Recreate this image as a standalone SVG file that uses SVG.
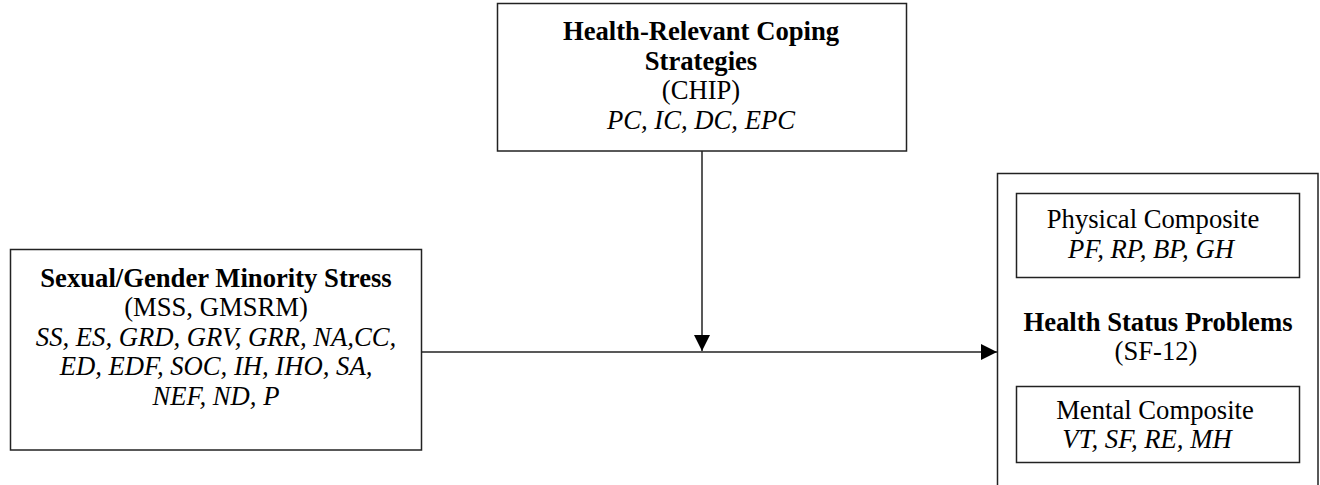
<svg xmlns="http://www.w3.org/2000/svg" width="1320" height="485" viewBox="0 0 1320 485">
<style>
.box{fill:#fff;stroke:#222;stroke-width:1.5}
text{font-family:"Liberation Serif","Times New Roman",serif;font-size:26.67px;fill:#000;text-anchor:middle}
.b{font-weight:bold}
.i{font-style:italic}
.conn{stroke:#222;stroke-width:1.5;fill:none}
</style>
<defs>
<marker id="ah" markerWidth="16" markerHeight="16" viewBox="0 0 16 16" refX="16" refY="8" orient="auto" markerUnits="userSpaceOnUse">
<path d="M0,0 L16,8 L0,16 Z" fill="#000"/>
</marker>
</defs>
<rect width="1320" height="485" fill="#fff"/>
<g id="connectors">
<line class="conn" x1="421" y1="352" x2="997" y2="352" marker-end="url(#ah)"/>
<line class="conn" x1="702" y1="151" x2="702" y2="351" marker-end="url(#ah)"/>
</g>
<g id="coping">
<rect class="box" x="497.5" y="3.5" width="409" height="147.5"/>
<text x="701" y="40" class="b">Health-Relevant Coping</text>
<text x="701" y="69.5" class="b">Strategies</text>
<text x="701" y="99">(CHIP)</text>
<text x="701" y="128.5" class="i">PC, IC, DC, EPC</text>
</g>
<g id="stress">
<rect class="box" x="10.5" y="249.5" width="411" height="200.5"/>
<text x="216" y="287" class="b">Sexual/Gender Minority Stress</text>
<text x="216" y="316">(MSS, GMSRM)</text>
<text x="216" y="345.5" class="i">SS, ES, GRD, GRV, GRR, NA,CC,</text>
<text x="216" y="375" class="i">ED, EDF, SOC, IH, IHO, SA,</text>
<text x="216" y="404.5" class="i">NEF, ND, P</text>
</g>
<g id="health">
<rect class="box" x="997.5" y="173.5" width="320.5" height="320"/>
<g id="physical">
<rect class="box" x="1016.5" y="193.5" width="283" height="84"/>
<text x="1153" y="228">Physical Composite</text>
<text x="1151" y="258" class="i">PF, RP, BP, GH</text>
</g>
<text x="1158" y="331" class="b">Health Status Problems</text>
<text x="1156" y="360">(SF-12)</text>
<g id="mental">
<rect class="box" x="1016.5" y="386.5" width="283" height="76"/>
<text x="1155" y="419">Mental Composite</text>
<text x="1147" y="448" class="i">VT, SF, RE, MH</text>
</g>
</g>
</svg>
